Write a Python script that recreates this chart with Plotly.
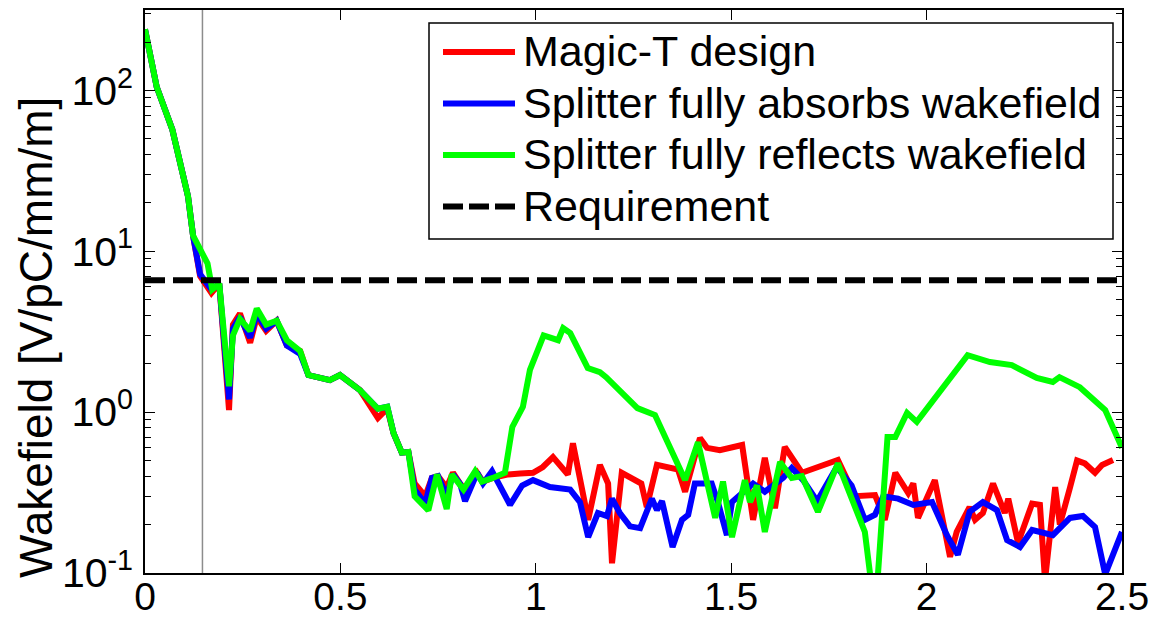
import plotly.graph_objects as go

# ---- data -----------------------------------------------------------------
magic_t_x = [0.000, 0.030, 0.070, 0.110, 0.123, 0.141, 0.170, 0.190, 0.215, 0.225,
             0.243, 0.269, 0.286, 0.310, 0.337, 0.363, 0.397, 0.418, 0.473, 0.499,
             0.550, 0.596, 0.620, 0.636, 0.657, 0.674, 0.690, 0.717, 0.734, 0.750,
             0.772, 0.788, 0.806, 0.819, 0.850, 0.865, 0.890, 0.930, 0.960, 0.993,
             1.018, 1.044, 1.082, 1.095, 1.134, 1.164, 1.185, 1.195, 1.220, 1.270,
             1.284, 1.310, 1.364, 1.382, 1.420, 1.438, 1.471, 1.528, 1.556, 1.586,
             1.612, 1.637, 1.681, 1.745, 1.773, 1.817, 1.868, 1.893, 1.920, 1.953,
             1.966, 1.978, 2.021, 2.060, 2.077, 2.110, 2.124, 2.144, 2.170, 2.200,
             2.209, 2.234, 2.270, 2.290, 2.303, 2.329, 2.341, 2.367, 2.385, 2.405,
             2.431, 2.449, 2.477]
magic_t_y = [240, 105, 57, 22, 12.5, 7.0, 5.5, 6.3, 1.03, 3.5,
             4.1, 2.7, 3.9, 3.2, 3.7, 2.6, 2.4, 1.7, 1.58, 1.7,
             1.37, 0.92, 1.05, 0.74, 0.56, 0.565, 0.36, 0.30, 0.39, 0.40,
             0.34, 0.42, 0.36, 0.33, 0.42, 0.37, 0.39, 0.41, 0.415, 0.42,
             0.456, 0.526, 0.41, 0.64, 0.214, 0.47, 0.36, 0.115, 0.42, 0.36,
             0.257, 0.47, 0.44, 0.32, 0.69, 0.60, 0.58, 0.625, 0.214, 0.52,
             0.253, 0.607, 0.42, 0.47, 0.504, 0.30, 0.305, 0.214, 0.42, 0.314,
             0.36, 0.22, 0.378, 0.126, 0.18, 0.257, 0.214, 0.236, 0.36, 0.236,
             0.29, 0.154, 0.27, 0.265, 0.09, 0.342, 0.20, 0.34, 0.50, 0.48,
             0.42, 0.47, 0.504]

absorb_x = [0.000, 0.030, 0.070, 0.110, 0.123, 0.141, 0.170, 0.190, 0.215, 0.225,
            0.243, 0.269, 0.286, 0.310, 0.337, 0.363, 0.397, 0.418, 0.473, 0.499,
            0.550, 0.596, 0.620, 0.636, 0.657, 0.674, 0.690, 0.717, 0.734, 0.750,
            0.772, 0.788, 0.806, 0.819, 0.850, 0.865, 0.888, 0.934, 0.965, 0.993,
            1.036, 1.088, 1.113, 1.134, 1.159, 1.182, 1.195, 1.215, 1.241, 1.267,
            1.297, 1.310, 1.323, 1.350, 1.374, 1.390, 1.407, 1.450, 1.466, 1.489,
            1.502, 1.530, 1.556, 1.586, 1.633, 1.655, 1.684, 1.720, 1.770, 1.808,
            1.842, 1.868, 1.889, 1.927, 1.966, 2.014, 2.052, 2.080, 2.110, 2.144,
            2.180, 2.206, 2.239, 2.270, 2.323, 2.367, 2.400, 2.431, 2.457, 2.500]
absorb_y = [240, 105, 57, 22, 12.5, 7.2, 5.8, 6.3, 1.2, 3.3,
            3.9, 2.9, 4.1, 3.3, 3.7, 2.6, 2.3, 1.7, 1.58, 1.7,
            1.37, 1.05, 1.08, 0.74, 0.56, 0.565, 0.33, 0.27, 0.39, 0.40,
            0.30, 0.41, 0.36, 0.28, 0.42, 0.36, 0.43, 0.265, 0.35, 0.378,
            0.342, 0.33, 0.276, 0.167, 0.236, 0.226, 0.29, 0.236, 0.195, 0.19,
            0.29, 0.246, 0.28, 0.145, 0.214, 0.23, 0.36, 0.36, 0.276, 0.172,
            0.276, 0.32, 0.36, 0.32, 0.39, 0.45, 0.378, 0.28, 0.456, 0.35,
            0.214, 0.23, 0.30, 0.29, 0.265, 0.276, 0.172, 0.13, 0.24, 0.276,
            0.246, 0.16, 0.145, 0.185, 0.172, 0.22, 0.226, 0.193, 0.098, 0.18]

reflect_x = [0.000, 0.030, 0.070, 0.110, 0.123, 0.160, 0.172, 0.190, 0.215, 0.225,
             0.243, 0.269, 0.286, 0.310, 0.337, 0.363, 0.397, 0.418, 0.473, 0.499,
             0.550, 0.596, 0.620, 0.636, 0.657, 0.674, 0.690, 0.725, 0.747, 0.772,
             0.785, 0.815, 0.845, 0.862, 0.890, 0.921, 0.940, 0.967, 0.985, 1.020,
             1.057, 1.070, 1.088, 1.133, 1.164, 1.180, 1.260, 1.305, 1.382, 1.415,
             1.459, 1.479, 1.502, 1.535, 1.548, 1.566, 1.586, 1.625, 1.655, 1.681,
             1.722, 1.773, 1.842, 1.860, 1.873, 1.900, 1.920, 1.950, 1.975, 2.105,
             2.162, 2.218, 2.282, 2.323, 2.340, 2.392, 2.457, 2.500]
reflect_y = [240, 105, 57, 22, 12.5, 8.4, 5.8, 6.3, 1.45, 3.0,
             3.8, 3.2, 4.4, 3.5, 3.7, 2.8, 2.4, 1.7, 1.58, 1.7,
             1.37, 1.05, 1.08, 0.74, 0.56, 0.565, 0.30, 0.245, 0.41, 0.25,
             0.41, 0.33, 0.43, 0.37, 0.39, 0.42, 0.81, 1.08, 1.83, 3.0,
             2.8, 3.33, 3.1, 1.88, 1.77, 1.65, 1.06, 0.96, 0.378, 0.65,
             0.22, 0.37, 0.167, 0.378, 0.276, 0.35, 0.18, 0.49, 0.39, 0.40,
             0.24, 0.48, 0.18, 0.08, 0.08, 0.70, 0.70, 0.99, 0.87, 2.26,
             2.05, 1.96, 1.63, 1.54, 1.65, 1.43, 1.03, 0.60]

requirement = 6.6
marker_position = 0.147

x_ticks = [0, 0.5, 1, 1.5, 2, 2.5]
x_tick_labels = ["0", "0.5", "1", "1.5", "2", "2.5"]
y_ticks = [0.1, 1, 10, 100]
y_tick_labels = ["10<sup>-1</sup>", "10<sup>0</sup>", "10<sup>1</sup>", "10<sup>2</sup>"]
y_minor_ticks = [m * 10.0 ** e for e in (-1, 0, 1, 2) for m in range(2, 10)]

series_names = ["Magic-T design", "Splitter fully absorbs wakefield",
                "Splitter fully reflects wakefield", "Requirement"]
series_colors = ["#ff0000", "#0000ff", "#00ff00", "#000000"]

# ---- figure geometry (pixels) ----------------------------------------------
W, H = 1154, 620
L, R, T, B = 145, 1122, 10, 573
FONT = "Liberation Sans, Arial, sans-serif"


def fx(px):
    return (px - L) / (R - L)


def fy(py):
    return (B - py) / (B - T)


fig = go.Figure()

for xs, ys, name, color in zip([magic_t_x, absorb_x, reflect_x],
                               [magic_t_y, absorb_y, reflect_y],
                               series_names[:3], series_colors[:3]):
    fig.add_trace(go.Scatter(x=xs, y=ys, mode="lines", name=name,
                             line=dict(color=color, width=6),
                             showlegend=False))

fig.add_trace(go.Scatter(x=[0, 2.5], y=[requirement, requirement], mode="lines",
                         name=series_names[3],
                         line=dict(color="#000000", width=6, dash="20px,8px"),
                         showlegend=False))

shapes = [
    dict(type="line", xref="x", yref="paper", x0=marker_position, x1=marker_position,
         y0=0, y1=1, line=dict(color="#8c8c8c", width=1.5), layer="below"),
    dict(type="rect", xref="paper", yref="paper", x0=fx(429), x1=fx(1113),
         y0=fy(239), y1=fy(23), line=dict(color="#000000", width=1.5),
         fillcolor="white", layer="above"),
]

annotations = []
row_y = [52, 103.5, 155, 206.5]
for name, color, ry in zip(series_names, series_colors, row_y):
    dash = "solid" if name != "Requirement" else "20px,6px"
    shapes.append(dict(type="line", xref="paper", yref="paper",
                       x0=fx(443), x1=fx(515), y0=fy(ry), y1=fy(ry),
                       line=dict(color=color, width=6, dash=dash), layer="above"))
    annotations.append(dict(xref="paper", yref="paper", x=fx(521), y=fy(ry - 1),
                            text=name, showarrow=False, xanchor="left",
                            yanchor="middle",
                            font=dict(family=FONT, size=43, color="#000000")))

annotations.append(dict(xref="paper", yref="paper", x=fx(36), y=fy(338),
                        text="Wakefield [V/pC/mm/m]", showarrow=False,
                        textangle=-90, xanchor="center", yanchor="middle",
                        font=dict(family=FONT, size=46, color="#000000")))

fig.update_layout(
    width=W, height=H,
    margin=dict(l=L, r=W - R, t=T, b=H - B, pad=0, autoexpand=False),
    paper_bgcolor="white", plot_bgcolor="white",
    font=dict(family=FONT, color="#000000"),
    shapes=shapes, annotations=annotations,
    showlegend=False,
)

fig.update_xaxes(
    range=[0, 2.5], tickvals=x_ticks, ticktext=x_tick_labels,
    ticks="inside", ticklen=10, tickwidth=1.2, tickcolor="#000000",
    showline=True, linecolor="#000000", linewidth=1.5, mirror="ticks",
    showgrid=False, zeroline=False, automargin=False,
    tickfont=dict(family=FONT, size=39, color="#000000"),
    ticklabelstandoff=-12,
)

fig.update_yaxes(
    type="log", range=[-1, 2.5], tickvals=y_ticks, ticktext=y_tick_labels,
    ticks="inside", ticklen=10, tickwidth=1.2, tickcolor="#000000",
    minor=dict(ticks="inside", ticklen=6, tickwidth=1, tickcolor="#000000",
               tickmode="array", tickvals=y_minor_ticks),
    showline=True, linecolor="#000000", linewidth=1.5, mirror="ticks",
    showgrid=False, zeroline=False, automargin=False,
    tickfont=dict(family=FONT, size=41, color="#000000"),
    ticklabelstandoff=2,
)

fig.write_html("out.html")
